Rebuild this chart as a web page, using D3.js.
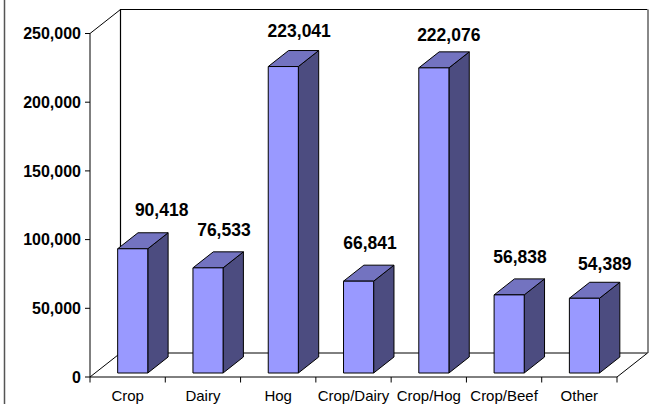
<!DOCTYPE html>
<html><head><meta charset="utf-8">
<script src="https://cdn.jsdelivr.net/npm/d3@7"></script>
<style>html,body{margin:0;padding:0;background:#fff;}svg{display:block;}</style>
</head><body>
<svg id="chart" width="654" height="404"></svg>
<script>
const categories = ["Crop", "Dairy", "Hog", "Crop/Dairy", "Crop/Hog", "Crop/Beef", "Other"];
const values = [90418, 76533, 223041, 66841, 222076, 56838, 54389];
const yTicks = [0, 50000, 100000, 150000, 200000, 250000];

// layout (not data)
const labelDx = [34, 21, 21, 16.5, 20, 16, 25.5];
const labelGap = [16.8, 15.8, 13.2, 15.7, 11.2, 15.6, 12.3];

const svg = d3.select("#chart");
const font = "'Liberation Sans', Arial, Helvetica, sans-serif";
const x0 = 90, x1 = 617, yBase = 377, yTop = 33.5;
const DX = 30.5, DY = -24;

const x = d3.scaleBand().domain(categories).range([x0, x1]).padding(0);
const y = d3.scaleLinear().domain([0, 250000]).range([yBase, yTop]);
const bw = x.bandwidth();
const barW = bw * 0.4;
const fFront = 1/6, fBack = 5/6;

const line = d3.line();

// frame left border
svg.append("line").attr("x1", 4.5).attr("x2", 4.5).attr("y1", 0).attr("y2", 404)
  .attr("stroke", "#555").attr("stroke-width", 1.5);

// walls
const g = svg.append("g");
// back wall
g.append("path").attr("d", line([[x0+DX, yBase+DY],[x0+DX, yTop+DY],[x1+DX, yTop+DY]]))
  .attr("fill", "none").attr("stroke", "#000").attr("stroke-width", 1.2);
g.append("line").attr("x1", x1+DX+0.5).attr("x2", x1+DX+0.5).attr("y1", yTop+DY).attr("y2", yBase+DY)
  .attr("stroke", "#888").attr("stroke-width", 2);
// side wall
g.append("path").attr("d", line([[x0, yBase],[x0, yTop],[x0+DX, yTop+DY]]))
  .attr("fill", "none").attr("stroke", "#000").attr("stroke-width", 1);
// floor
g.append("path").attr("d", line([[x0, yBase],[x0+DX, yBase+DY],[x1+DX, yBase+DY],[x1, yBase],[x0, yBase]]))
  .attr("fill", "none").attr("stroke", "#000").attr("stroke-width", 1);

// y axis ticks and labels
const yAxisG = svg.append("g");
yTicks.forEach(t => {
  yAxisG.append("line").attr("x1", x0-5).attr("x2", x0).attr("y1", y(t)).attr("y2", y(t))
    .attr("stroke", "#000");
  yAxisG.append("text").attr("x", 81).attr("y", y(t) + 5.8)
    .attr("text-anchor", "end").attr("font-family", font).attr("font-weight", "bold")
    .attr("font-size", 16).attr("fill", "#000").text(d3.format(",")(t));
});

// x ticks
const bounds = categories.map(c => x(c)).concat([x1]);
bounds.forEach(b => {
  svg.append("line").attr("x1", b).attr("x2", b).attr("y1", yBase).attr("y2", yBase+5.5)
    .attr("stroke", "#000");
});
categories.forEach(c => {
  svg.append("text").attr("x", x(c) + bw/2).attr("y", 401)
    .attr("text-anchor", "middle").attr("font-family", font).attr("font-size", 15)
    .attr("fill", "#000").text(c);
});

// bars
const bars = svg.append("g").attr("stroke", "#000").attr("stroke-width", 1).attr("stroke-linejoin", "round");
categories.forEach((c, i) => {
  const v = values[i];
  const cx = x(c) + bw/2;
  const fx = cx - barW/2 + DX*fFront, fy0 = yBase + DY*fFront, fy1 = y(v) + DY*fFront;
  const ddx = DX*(fBack - fFront), ddy = DY*(fBack - fFront);
  // side
  bars.append("path").attr("fill", "#4C4C80")
    .attr("d", line([[fx+barW, fy0],[fx+barW, fy1],[fx+barW+ddx, fy1+ddy],[fx+barW+ddx, fy0+ddy]]) + "Z");
  // top
  bars.append("path").attr("fill", "#7373C0")
    .attr("d", line([[fx, fy1],[fx+barW, fy1],[fx+barW+ddx, fy1+ddy],[fx+ddx, fy1+ddy]]) + "Z");
  // front
  bars.append("path").attr("fill", "#9999FF")
    .attr("d", line([[fx, fy0],[fx, fy1],[fx+barW, fy1],[fx+barW, fy0]]) + "Z");
  // label
  const backTop = y(v) + DY*fBack;
  svg.append("text").attr("x", cx + labelDx[i]).attr("y", backTop - labelGap[i])
    .attr("text-anchor", "middle").attr("font-family", font).attr("font-weight", "bold")
    .attr("font-size", 17.5).attr("fill", "#000").text(d3.format(",")(v));
});
</script>
</body></html>
